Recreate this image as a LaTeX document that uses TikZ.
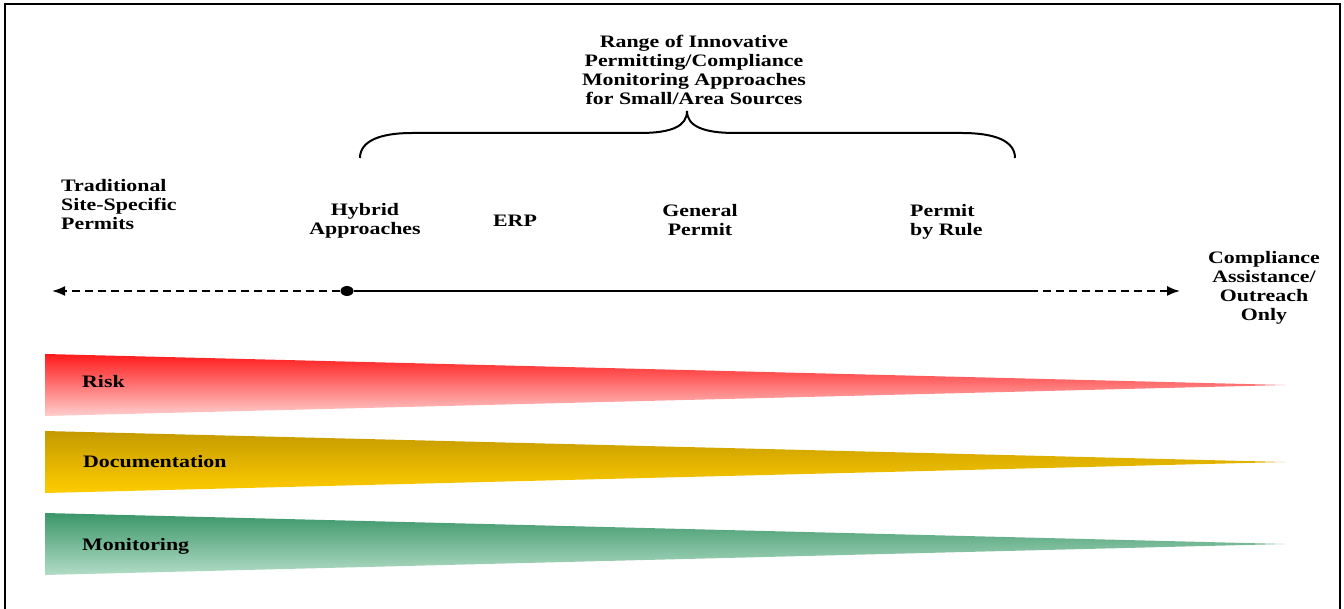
\documentclass[tikz,border=0pt]{standalone}
\usepackage{fontspec}
\setmainfont{Liberation Serif}[FakeStretch=1.25]
\usetikzlibrary{arrows.meta,shapes.geometric}
\begin{document}
\begin{tikzpicture}[x=1pt,y=-1pt,
  lbl/.style={font=\fontsize{17.5}{19}\selectfont\bfseries, inner sep=0pt, text=black},
  axis/.style={line width=1.8pt},
  dashedaxis/.style={line width=1.8pt, dash pattern=on 8pt off 5pt},
  tip/.style={-{Latex[length=13pt,width=10pt]}}
]
\useasboundingbox (0,0) rectangle (1344,609);
% frame
\draw[line width=2pt] (5,612) -- (5,4) -- (1340,4) -- (1340,612);

% title
\node[lbl, align=center] (title) at (694,70) {Range of Innovative\\Permitting/Compliance\\Monitoring Approaches\\for Small/Area Sources};

% brace
\draw[line width=2pt] (360,158) .. controls (360,141) and (380,133) .. (412,133) -- (640,133)
  .. controls (672,133) and (687,126) .. (687,111)
  .. controls (687,126) and (703,133) .. (735,133) -- (962,133)
  .. controls (995,133) and (1015,141) .. (1015,158);

% labels
\node[lbl, align=left, anchor=west] (trad) at (61,205) {Traditional\\Site-Specific\\Permits};
\node[lbl, align=center] (hyb) at (365,221) {Hybrid\\Approaches};
\node[lbl] (erp) at (515,221) {ERP};
\node[lbl, align=center] (gen) at (700,220) {General\\Permit};
\node[lbl, align=left, anchor=west] (pbr) at (910,222) {Permit\\by Rule};
\node[lbl, align=center] (comp) at (1264,288) {Compliance\\Assistance/\\Outreach\\Only};

% axis
\node[ellipse, fill=black, inner sep=0pt, minimum width=13pt, minimum height=10pt] (dot) at (347,291) {};
\coordinate (ltip) at (52,291);
\coordinate (rdash) at (1030,291);
\coordinate (rtip) at (1180,291);
\draw[dashedaxis, tip] (dot) -- (ltip);
\draw[axis] (dot) -- (rdash);
\draw[dashedaxis, tip] (rdash) -- (rtip);

% wedges
\shade[top color={rgb,255:red,255;green,26;blue,26}, bottom color={rgb,255:red,255;green,206;blue,206}]
  (45,354) -- (1285,385) -- (45,416) -- cycle;
\shade[top color={rgb,255:red,196;green,154;blue,0}, bottom color={rgb,255:red,255;green,204;blue,0}]
  (45,431) -- (1285,462) -- (45,493) -- cycle;
\shade[top color={rgb,255:red,58;green,150;blue,104}, bottom color={rgb,255:red,178;green,220;blue,198}]
  (45,513) -- (1285,544) -- (45,575) -- cycle;

\node[lbl, anchor=west] (risk) at (82,382) {Risk};
\node[lbl, anchor=west] (doc) at (83,462) {Documentation};
\node[lbl, anchor=west] (mon) at (82,546) {Monitoring};
\end{tikzpicture}
\end{document}
